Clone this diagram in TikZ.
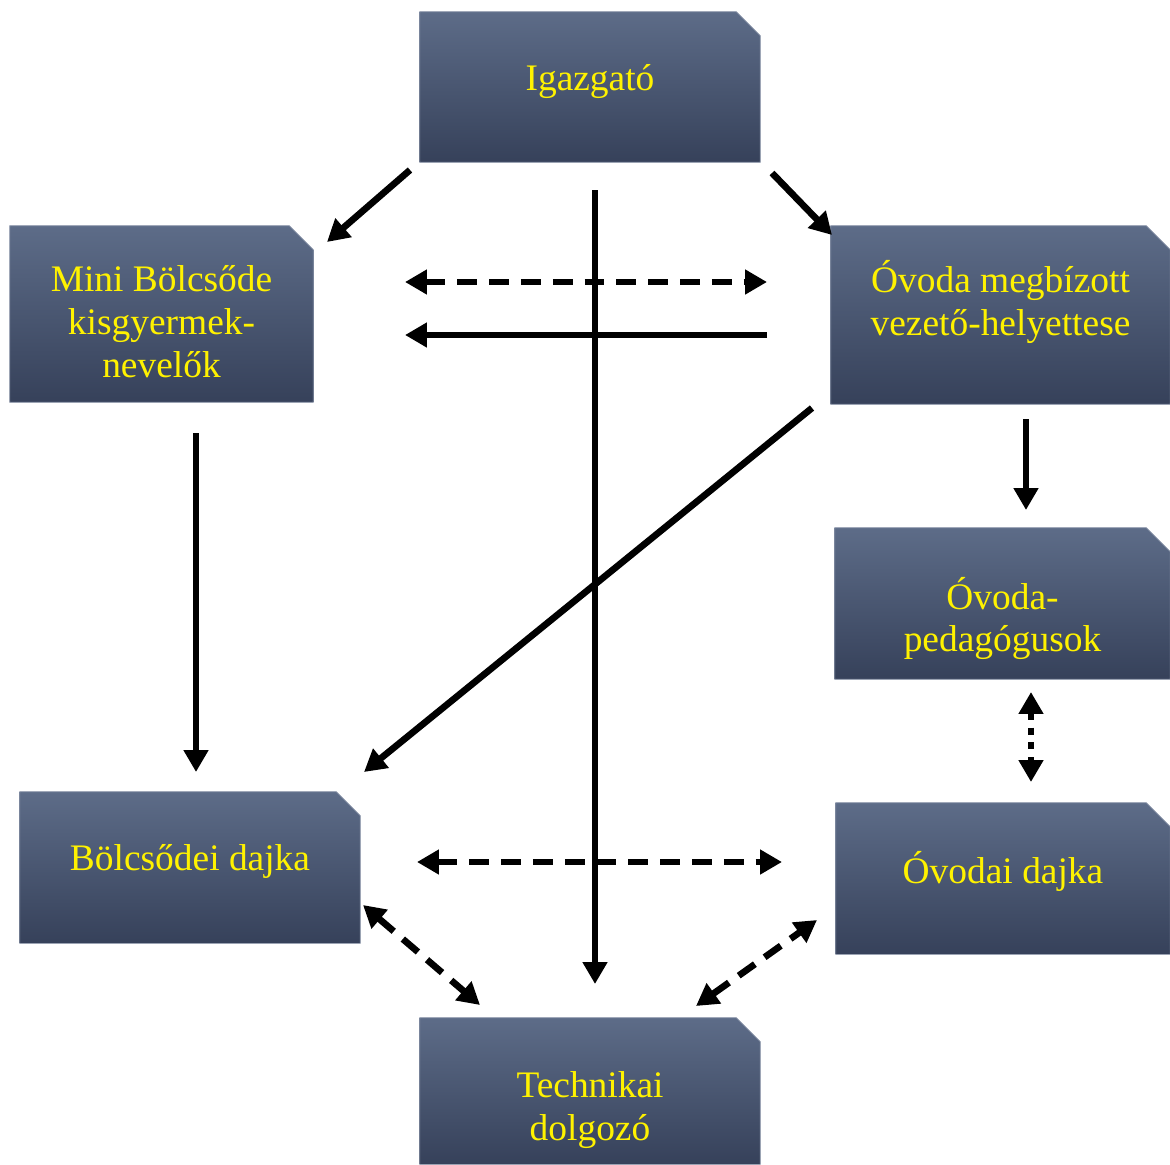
\documentclass[tikz,border=0pt]{standalone}
\usepackage{fontspec}
\setmainfont{Liberation Serif}
\usepackage{xcolor}
\usetikzlibrary{arrows.meta,backgrounds}

\definecolor{boxtop}{RGB}{93,108,136}
\definecolor{boxbot}{RGB}{54,65,90}
\definecolor{boxline}{RGB}{140,150,170}

\tikzset{
    box/.style={rectangle, inner sep=0pt},
    boxfill/.style={top color=boxtop, bottom color=boxbot, draw=boxline, line width=0.4pt},
    boxtext/.style={align=center, text=yellow, inner sep=0pt,
        font=\fontsize{21.3}{24.4}\selectfont},
    arr/.style={line width=3.8pt, -{Triangle[length=12.5pt,width=13.5pt]}},
    dasharr/.style={arr, {Triangle[length=12.5pt,width=13.5pt]}-{Triangle[length=12.5pt,width=13.5pt]}, dash pattern=on 11.3pt off 6.8pt},
    dotarr/.style={arr, {Triangle[length=12.5pt,width=13.5pt]}-{Triangle[length=12.5pt,width=13.5pt]}, dash pattern=on 4pt off 4.5pt}
}

\begin{document}
\begin{tikzpicture}[x=0.02cm, y=-0.02cm]
    \useasboundingbox (0,0) rectangle (1170,1164);

    % Boxes
    \node[box, minimum width=6.8cm, minimum height=3cm,
        label={[boxtext, yshift=3.4pt]center:Igazgató}] (igazgato) at (590,87) {};
    \node[box, minimum width=6.06cm, minimum height=3.52cm,
        label={[boxtext, yshift=-4.5pt]center:Mini Bölcsőde\\kisgyermek-\\nevelők}] (mini) at (161.5,314) {};
    \node[box, minimum width=6.78cm, minimum height=3.56cm,
        label={[boxtext, yshift=7.4pt]center:Óvoda megbízott\\vezető-helyettese}] (helyettes) at (1000.5,315) {};
    \node[box, minimum width=6.7cm, minimum height=3.02cm,
        label={[boxtext, yshift=-8.5pt]center:Óvoda-\\pedagógusok}] (pedagogus) at (1002.5,603.5) {};
    \node[box, minimum width=6.8cm, minimum height=3.02cm,
        label={[boxtext, yshift=3.4pt]center:Bölcsődei dajka}] (bdajka) at (190,867.5) {};
    \node[box, minimum width=6.68cm, minimum height=3.02cm,
        label={[boxtext, yshift=4pt]center:Óvodai dajka}] (odajka) at (1003,878.5) {};
    \node[box, minimum width=6.8cm, minimum height=2.92cm,
        label={[boxtext, yshift=-10.8pt]center:Technikai\\dolgozó}] (technikai) at (590,1091) {};

    % Box shapes with cut corner
    \begin{scope}[on background layer]
        \foreach \b in {igazgato,mini,helyettes,pedagogus,bdajka,odajka,technikai}
            \shade[boxfill] (\b.south west) -- (\b.north west)
                -- ([xshift=-0.48cm]\b.north east) -- ([yshift=-0.48cm]\b.north east)
                -- (\b.south east) -- cycle;
    \end{scope}

    % Arrow ends
    \coordinate (igL) at (410,170);
    \coordinate (miniT) at (327,242);
    \coordinate (igR) at (772,173);
    \coordinate (helyT) at (832,235);
    \coordinate (topL) at (405,282);
    \coordinate (topR) at (767,282);
    \coordinate (midL) at (405,335);
    \coordinate (midR) at (767,335);
    \coordinate (igB) at (595,190);
    \coordinate (techT) at (595,984);
    \coordinate (miniB) at (196,433);
    \coordinate (bdT) at (196,772);
    \coordinate (helyB) at (812,408);
    \coordinate (bdR) at (364,772);
    \coordinate (helyD) at (1026,419);
    \coordinate (pedT) at (1026,510);
    \coordinate (pedB) at (1031,692);
    \coordinate (odT) at (1031,782);
    \coordinate (botL) at (417,862);
    \coordinate (botR) at (782,862);
    \coordinate (bdD) at (363,905);
    \coordinate (techL) at (480,1005);
    \coordinate (techR) at (696,1006);
    \coordinate (odL) at (817,920);

    % Connectors
    \draw[arr] (igL) -- (miniT);
    \draw[arr] (igR) -- (helyT);
    \draw[dasharr] (topL) -- (topR);
    \draw[arr] (midR) -- (midL);
    \draw[arr] (igB) -- (techT);
    \draw[arr] (miniB) -- (bdT);
    \draw[arr] (helyB) -- (bdR);
    \draw[arr] (helyD) -- (pedT);
    \draw[dotarr] (pedB) -- (odT);
    \draw[dasharr] (botL) -- (botR);
    \draw[dasharr] (bdD) -- (techL);
    \draw[dasharr] (techR) -- (odL);
\end{tikzpicture}
\end{document}
